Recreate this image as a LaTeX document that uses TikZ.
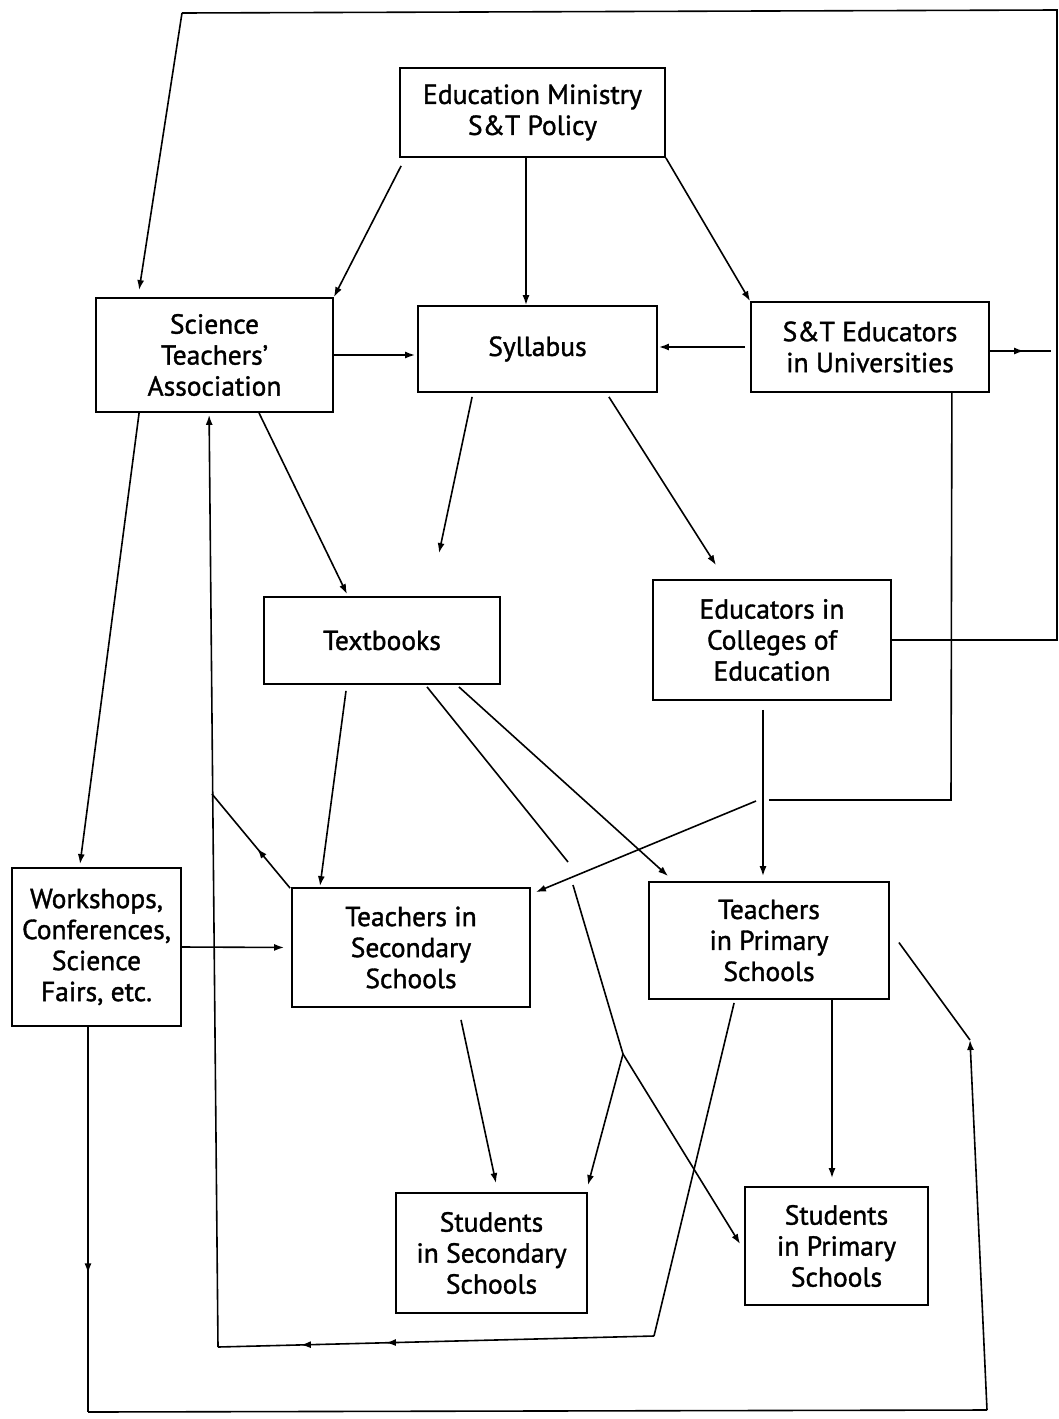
\documentclass[tikz,border=0pt]{standalone}
\usepackage{fontspec}
\setmainfont{PT Sans}
\newfontfamily\boxfont{PT Sans}[FakeBold=1.3,Ligatures=TeX]
\usetikzlibrary{arrows.meta,calc,decorations.markings}
\begin{document}
\begin{tikzpicture}[x=1pt,y=-1pt,
  box/.style={draw,line width=1.8pt,rectangle,align=center,inner sep=0pt,font=\boxfont\fontsize{27.5}{31}\selectfont},
  conn/.style={line width=1.6pt},
  arr/.style={conn,-{Latex[length=10pt,width=7pt]}},
  midarr/.style={postaction={decorate},decoration={markings,mark=at position #1 with {\arrow{Latex[length=10pt,width=7pt]}}}},
  twoarr/.style 2 args={postaction={decorate},decoration={markings,mark=at position #1 with {\arrow{Latex[length=10pt,width=7pt]}},mark=at position #2 with {\arrow{Latex[length=10pt,width=7pt]}}}},
]
\fill[white] (0,0) rectangle (1059,1419);
\useasboundingbox (0,0) rectangle (1059,1419);

% boxes
\node[box,minimum width=265pt,minimum height=89pt] (min) at (532.5,112.5) {Education Ministry\\S\&T Policy};
\node[box,minimum width=237pt,minimum height=114pt] (sta) at (214.5,355) {Science\\Teachers’\\Association};
\node[box,minimum width=239pt,minimum height=86pt] (syl) at (537.5,349) {Syllabus};
\node[box,minimum width=238pt,minimum height=90pt] (ste) at (870,347) {S\&T Educators\\in Universities};
\node[box,minimum width=236pt,minimum height=87pt] (tb) at (382,640.5) {Textbooks};
\node[box,minimum width=238pt,minimum height=120pt] (coe) at (772,640) {Educators in\\Colleges of\\Education};
\node[box,minimum width=169pt,minimum height=158pt] (ws) at (96.5,947) {Workshops,\\Conferences,\\Science\\Fairs, etc.};
\node[box,minimum width=238pt,minimum height=119pt] (ts) at (411,947.5) {Teachers in\\Secondary\\Schools};
\node[box,minimum width=240pt,minimum height=117pt] (tp) at (769,940.5) {Teachers\\in Primary\\Schools};
\node[box,minimum width=191pt,minimum height=120pt] (ss) at (491.5,1253) {Students\\in Secondary\\Schools};
\node[box,minimum width=183pt,minimum height=118pt] (sp) at (836.5,1246) {Students\\in Primary\\Schools};

% bend / free-end coordinates
\coordinate (rA) at (1051,351);
\coordinate (tr) at (1057,10);
\coordinate (tl) at (182,13);
\coordinate (rB) at (1057,640);
\coordinate (h1) at (568,862);
\coordinate (h2) at (573,885);
\coordinate (jn) at (623,1054);
\coordinate (s1) at (951,800);
\coordinate (s2) at (769,800);
\coordinate (s3) at (756,801);
\coordinate (v1) at (212,794);
\coordinate (b1) at (654,1336);
\coordinate (b2) at (218,1347);
\coordinate (w1) at (88,1412);
\coordinate (w2) at (987,1410);
\coordinate (w3) at (970,1040);

% ministry
\draw[arr] ($(min.south west)+(2,8)$) -- (sta.north east);
\draw[arr] ($(min.south)+(-6.5,0)$) -- ($(syl.north)+(-11.5,0)$);
\draw[arr] (min.south east) -- (ste.north west);

% into syllabus
\draw[arr,shorten >=2pt] (sta.east) -- (sta.east -| syl.west);
\draw[arr,shorten <=5pt,shorten >=1pt] (ste.west) -- (ste.west -| syl.east);

% outer loop
\draw[conn,midarr=0.56] ($(ste.east)+(0,4)$) -- (rA);
\draw[conn] (coe.east) -- (rB) -- (tr) -- (tl);
\draw[arr] (tl) -- ($(sta.north west)+(44,-7)$);

% from syllabus
\draw[arr] ($(syl.south west)+(55,4)$) -- ($(tb.north)+(57,-43)$);
\draw[arr] ($(syl.south east)+(-49,4)$) -- ($(coe.north)+(-56,-14)$);

% from STA
\draw[arr] ($(sta.south)+(44.5,0)$) -- ($(tb.north)+(-35,-2)$);
\draw[arr] ($(sta.south west)+(44,0)$) -- ($(ws.north)+(-16.5,-3)$);

% from textbooks
\draw[arr] ($(tb.south)+(-36,6)$) -- ($(ts.north)+(-91,-1)$);
\draw[arr] ($(tb.south east)+(-42,2)$) -- ($(tp.north west)+(20,-5)$);
\draw[conn] ($(tb.south)+(45,2)$) -- (h1);
\draw[conn] (h2) -- (jn);
\draw[arr] (jn) -- ($(ss.north east)+(0,-7)$);
\draw[arr] (jn) -- ($(sp.west)+(-4,-2)$);

% from colleges
\draw[arr] ($(coe.south)+(-9,9)$) -- ($(tp.north)+(-6,-5)$);

% S&T educators -> teachers secondary
\draw[conn] ($(ste.south east)+(-38,0)$) -- (s1) -- (s2);
\draw[arr] (s3) -- ($(ts.north east)+(5,5)$);

% teachers -> STA
\draw[conn,midarr=0.42] ($(ts.north west)+(-1,1)$) -- (v1);
\draw[conn] ($(tp.south west)+(86,3)$) -- (b1);
\draw[conn,twoarr={0.615}{0.81}] (b1) -- (b2);
\draw[arr] (b2) -- ($(sta.south west)+(114,2)$);

% workshops
\draw[arr,shorten >=7pt] (ws.east) -- (ts.west);
\draw[conn,midarr=0.64] ($(ws.south)+(-8.5,0)$) -- (w1);
\draw[conn] (w1) -- (w2);
\draw[arr] (w2) -- (w3);
\draw[conn] (w3) -- ($(tp.east)+(9,2)$);

% teachers -> students
\draw[arr] ($(tp.south)+(63,0)$) -- ($(sp.north)+(-4.5,-8)$);
\draw[arr] ($(ts.south)+(50,12)$) -- ($(ss.north)+(4.5,-9)$);
\end{tikzpicture}
\end{document}
